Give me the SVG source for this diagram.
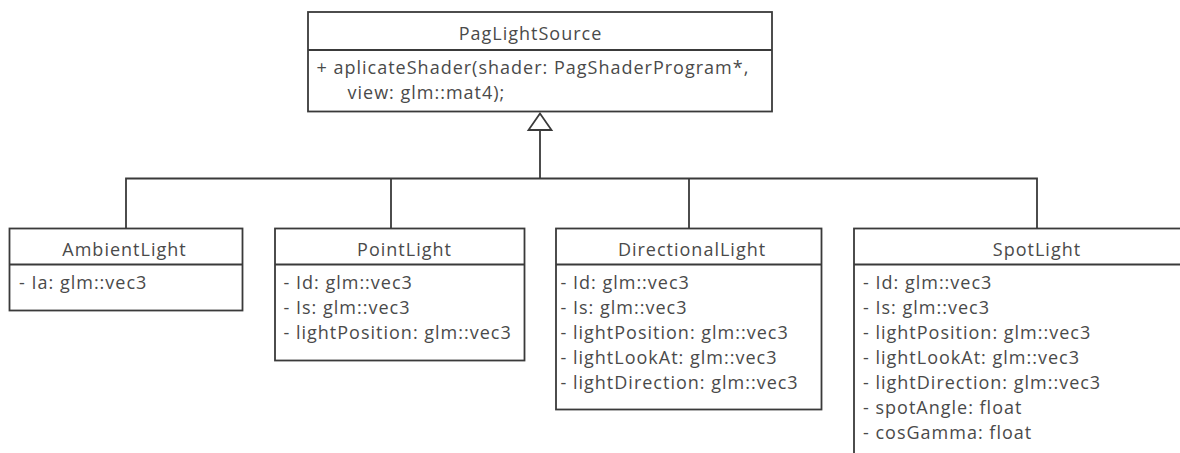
<svg xmlns="http://www.w3.org/2000/svg" width="1180" height="453" viewBox="0 0 1180 453">
  <style>
    .box { fill: #ffffff; stroke: #3a3a3a; stroke-width: 1.8; }
    .sep { stroke: #3a3a3a; stroke-width: 1.8; }
    .wire { fill: none; stroke: #3a3a3a; stroke-width: 1.8; }
    .head { fill: #ffffff; stroke: #3a3a3a; stroke-width: 1.8; stroke-linejoin: miter; }
    text { font-family: "Open Sans", "Noto Sans", sans-serif; font-size: 18px; letter-spacing: 1px; fill: #4a4a4a; }
    .title { text-anchor: middle; }
  </style>
  <rect width="1180" height="453" fill="#ffffff"/>

  <!-- generalization connectors -->
  <g id="connectors">
    <path class="wire" d="M540 130 V178.5 M126 228.5 V178.5 H1037 V228.5 M391 178.5 V228.5 M689 178.5 V228.5"/>
    <polygon class="head" points="540,113.5 528.5,130 551.5,130"/>
  </g>

  <g id="PagLightSource">
    <rect class="box" x="308" y="12" width="464" height="99.5"/>
    <line class="sep" x1="308" y1="50" x2="772" y2="50"/>
    <text class="title" x="530.5" y="40">PagLightSource</text>
    <text x="316.5" y="74">+ aplicateShader(shader: PagShaderProgram*,</text>
    <text x="347.5" y="98.5">view: glm::mat4);</text>
  </g>

  <g id="AmbientLight">
    <rect class="box" x="9.5" y="228.5" width="233" height="82"/>
    <line class="sep" x1="9.5" y1="264.5" x2="242.5" y2="264.5"/>
    <text class="title" x="124.5" y="256">AmbientLight</text>
    <text x="19" y="289.3">- Ia: glm::vec3</text>
  </g>

  <g id="PointLight">
    <rect class="box" x="275" y="228.5" width="249.5" height="132"/>
    <line class="sep" x1="275" y1="264.5" x2="524.5" y2="264.5"/>
    <text class="title" x="404.5" y="256">PointLight</text>
    <text x="283.5" y="289.3">- Id: glm::vec3</text>
    <text x="283.5" y="314.3">- Is: glm::vec3</text>
    <text x="283.5" y="339.3">- lightPosition: glm::vec3</text>
  </g>

  <g id="DirectionalLight">
    <rect class="box" x="556" y="228.5" width="265.5" height="181"/>
    <line class="sep" x1="556" y1="264.5" x2="821.5" y2="264.5"/>
    <text class="title" x="692" y="256">DirectionalLight</text>
    <text x="560.5" y="289.3">- Id: glm::vec3</text>
    <text x="560.5" y="314.3">- Is: glm::vec3</text>
    <text x="560.5" y="339.3">- lightPosition: glm::vec3</text>
    <text x="560.5" y="364.3">- lightLookAt: glm::vec3</text>
    <text x="560.5" y="389.3">- lightDirection: glm::vec3</text>
  </g>

  <g id="SpotLight">
    <rect class="box" x="854" y="228.5" width="366" height="240"/>
    <line class="sep" x1="854" y1="264.5" x2="1220" y2="264.5"/>
    <text class="title" x="1037" y="256">SpotLight</text>
    <text x="863" y="289.3">- Id: glm::vec3</text>
    <text x="863" y="314.3">- Is: glm::vec3</text>
    <text x="863" y="339.3">- lightPosition: glm::vec3</text>
    <text x="863" y="364.3">- lightLookAt: glm::vec3</text>
    <text x="863" y="389.3">- lightDirection: glm::vec3</text>
    <text x="863" y="414.3">- spotAngle: float</text>
    <text x="863" y="439.3">- cosGamma: float</text>
  </g>
</svg>
